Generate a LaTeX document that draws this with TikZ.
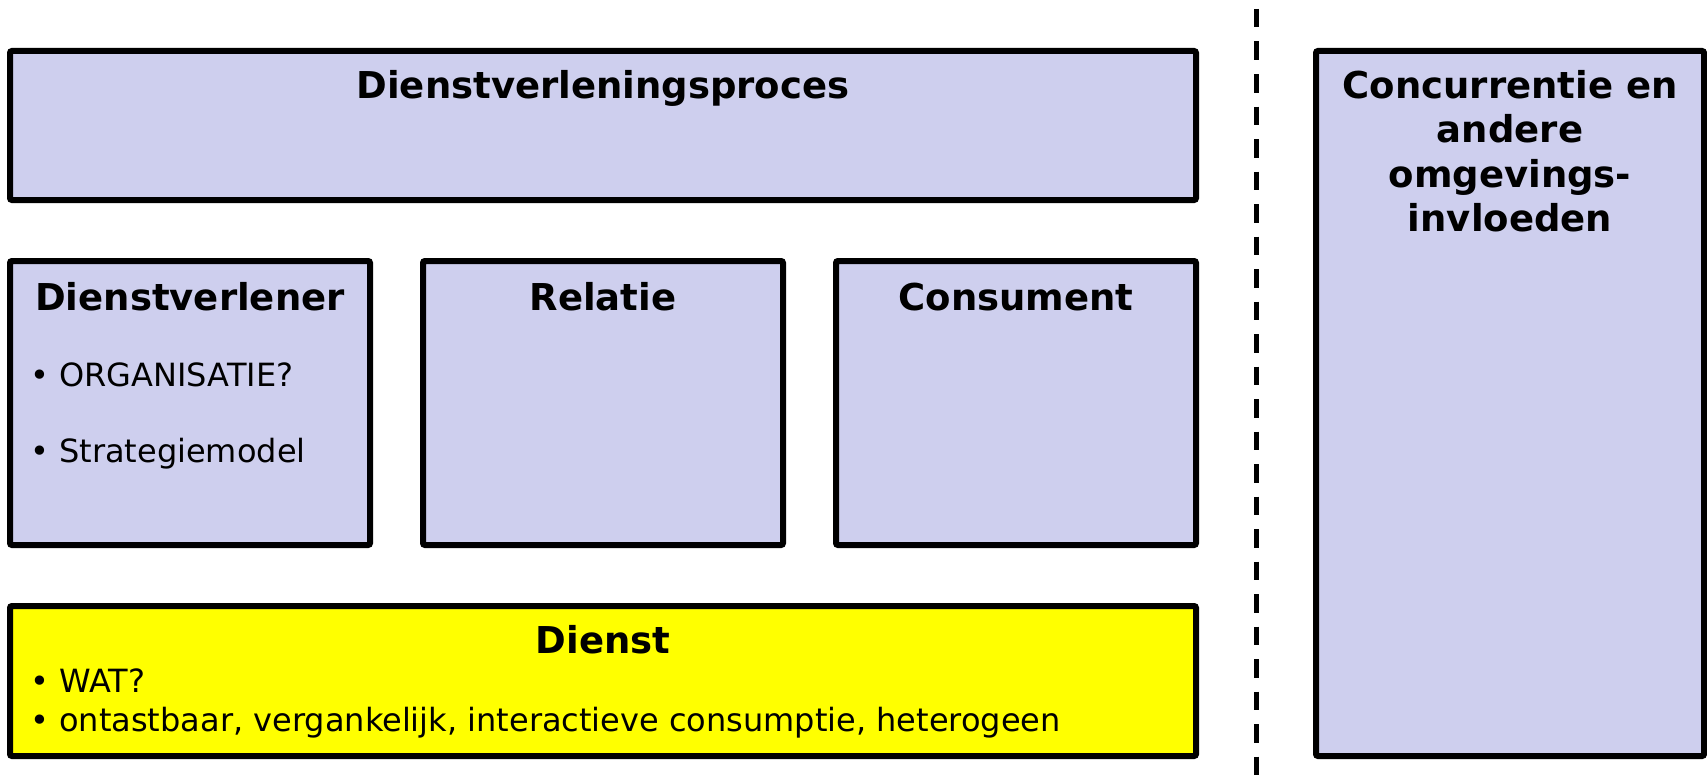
\documentclass[tikz,border=0pt]{standalone}
\usepackage{fontspec}
\setmainfont{DejaVu Sans}
\definecolor{lavendel}{RGB}{206,207,238}
\definecolor{geel}{RGB}{255,255,0}
\begin{document}
\begin{tikzpicture}[
        x=1pt, y=-1pt,
        panel/.style={rectangle, draw=black, line width=6pt, rounded corners=2pt, fill=lavendel, inner sep=0pt},
        geelpanel/.style={panel, fill=geel},
        kop/.style={anchor=base, inner sep=0pt, font=\fontsize{37}{44.5}\selectfont\bfseries},
        punt/.style={anchor=base west, inner sep=0pt, font=\fontsize{32}{38}\selectfont},
        scheiding/.style={line width=5pt, dash pattern=on 18.5pt off 14pt}
    ]
    \useasboundingbox (0,0) rectangle (1707,776);

    \node[panel, minimum width=1186pt, minimum height=149pt] (proces) at (603,125.5) {};
    \node[panel, minimum width=360pt, minimum height=284pt] (verlener) at (190,403) {};
    \node[panel, minimum width=360pt, minimum height=284pt] (relatie) at (603,403) {};
    \node[panel, minimum width=360pt, minimum height=284pt] (consument) at (1016,403) {};
    \node[geelpanel, minimum width=1186pt, minimum height=150pt] (dienst) at (603,681) {};
    \node[panel, minimum width=388pt, minimum height=705pt] (omgeving) at (1510,403.5) {};

    \node[kop] (prTitel) at (603,98) {Dienstverleningsproces};
    \node[kop] (vlTitel) at (190,310) {Dienstverlener};
    \node[kop] (reTitel) at (603,310) {Relatie};
    \node[kop] (coTitel) at (1016,310) {Consument};
    \node[kop] (diTitel) at (603,653) {Dienst};
    \node[kop, align=center] (omTitel) at (1510,231.5) {Concurrentie en\\andere\\omgevings-\\invloeden};

    \node[punt] (vl1) at (30,386) {• ORGANISATIE?};
    \node[punt] (vl2) at (30,462) {• Strategiemodel};
    \node[punt] (di1) at (30,692) {• WAT?};
    \node[punt] (di2) at (30,731) {• ontastbaar, vergankelijk, interactieve consumptie, heterogeen};

    \coordinate (scBoven) at (1256,9);
    \coordinate (scOnder) at (1256,776);
    \draw[scheiding] (scBoven) -- (scOnder);

    \end{tikzpicture}
\end{document}
